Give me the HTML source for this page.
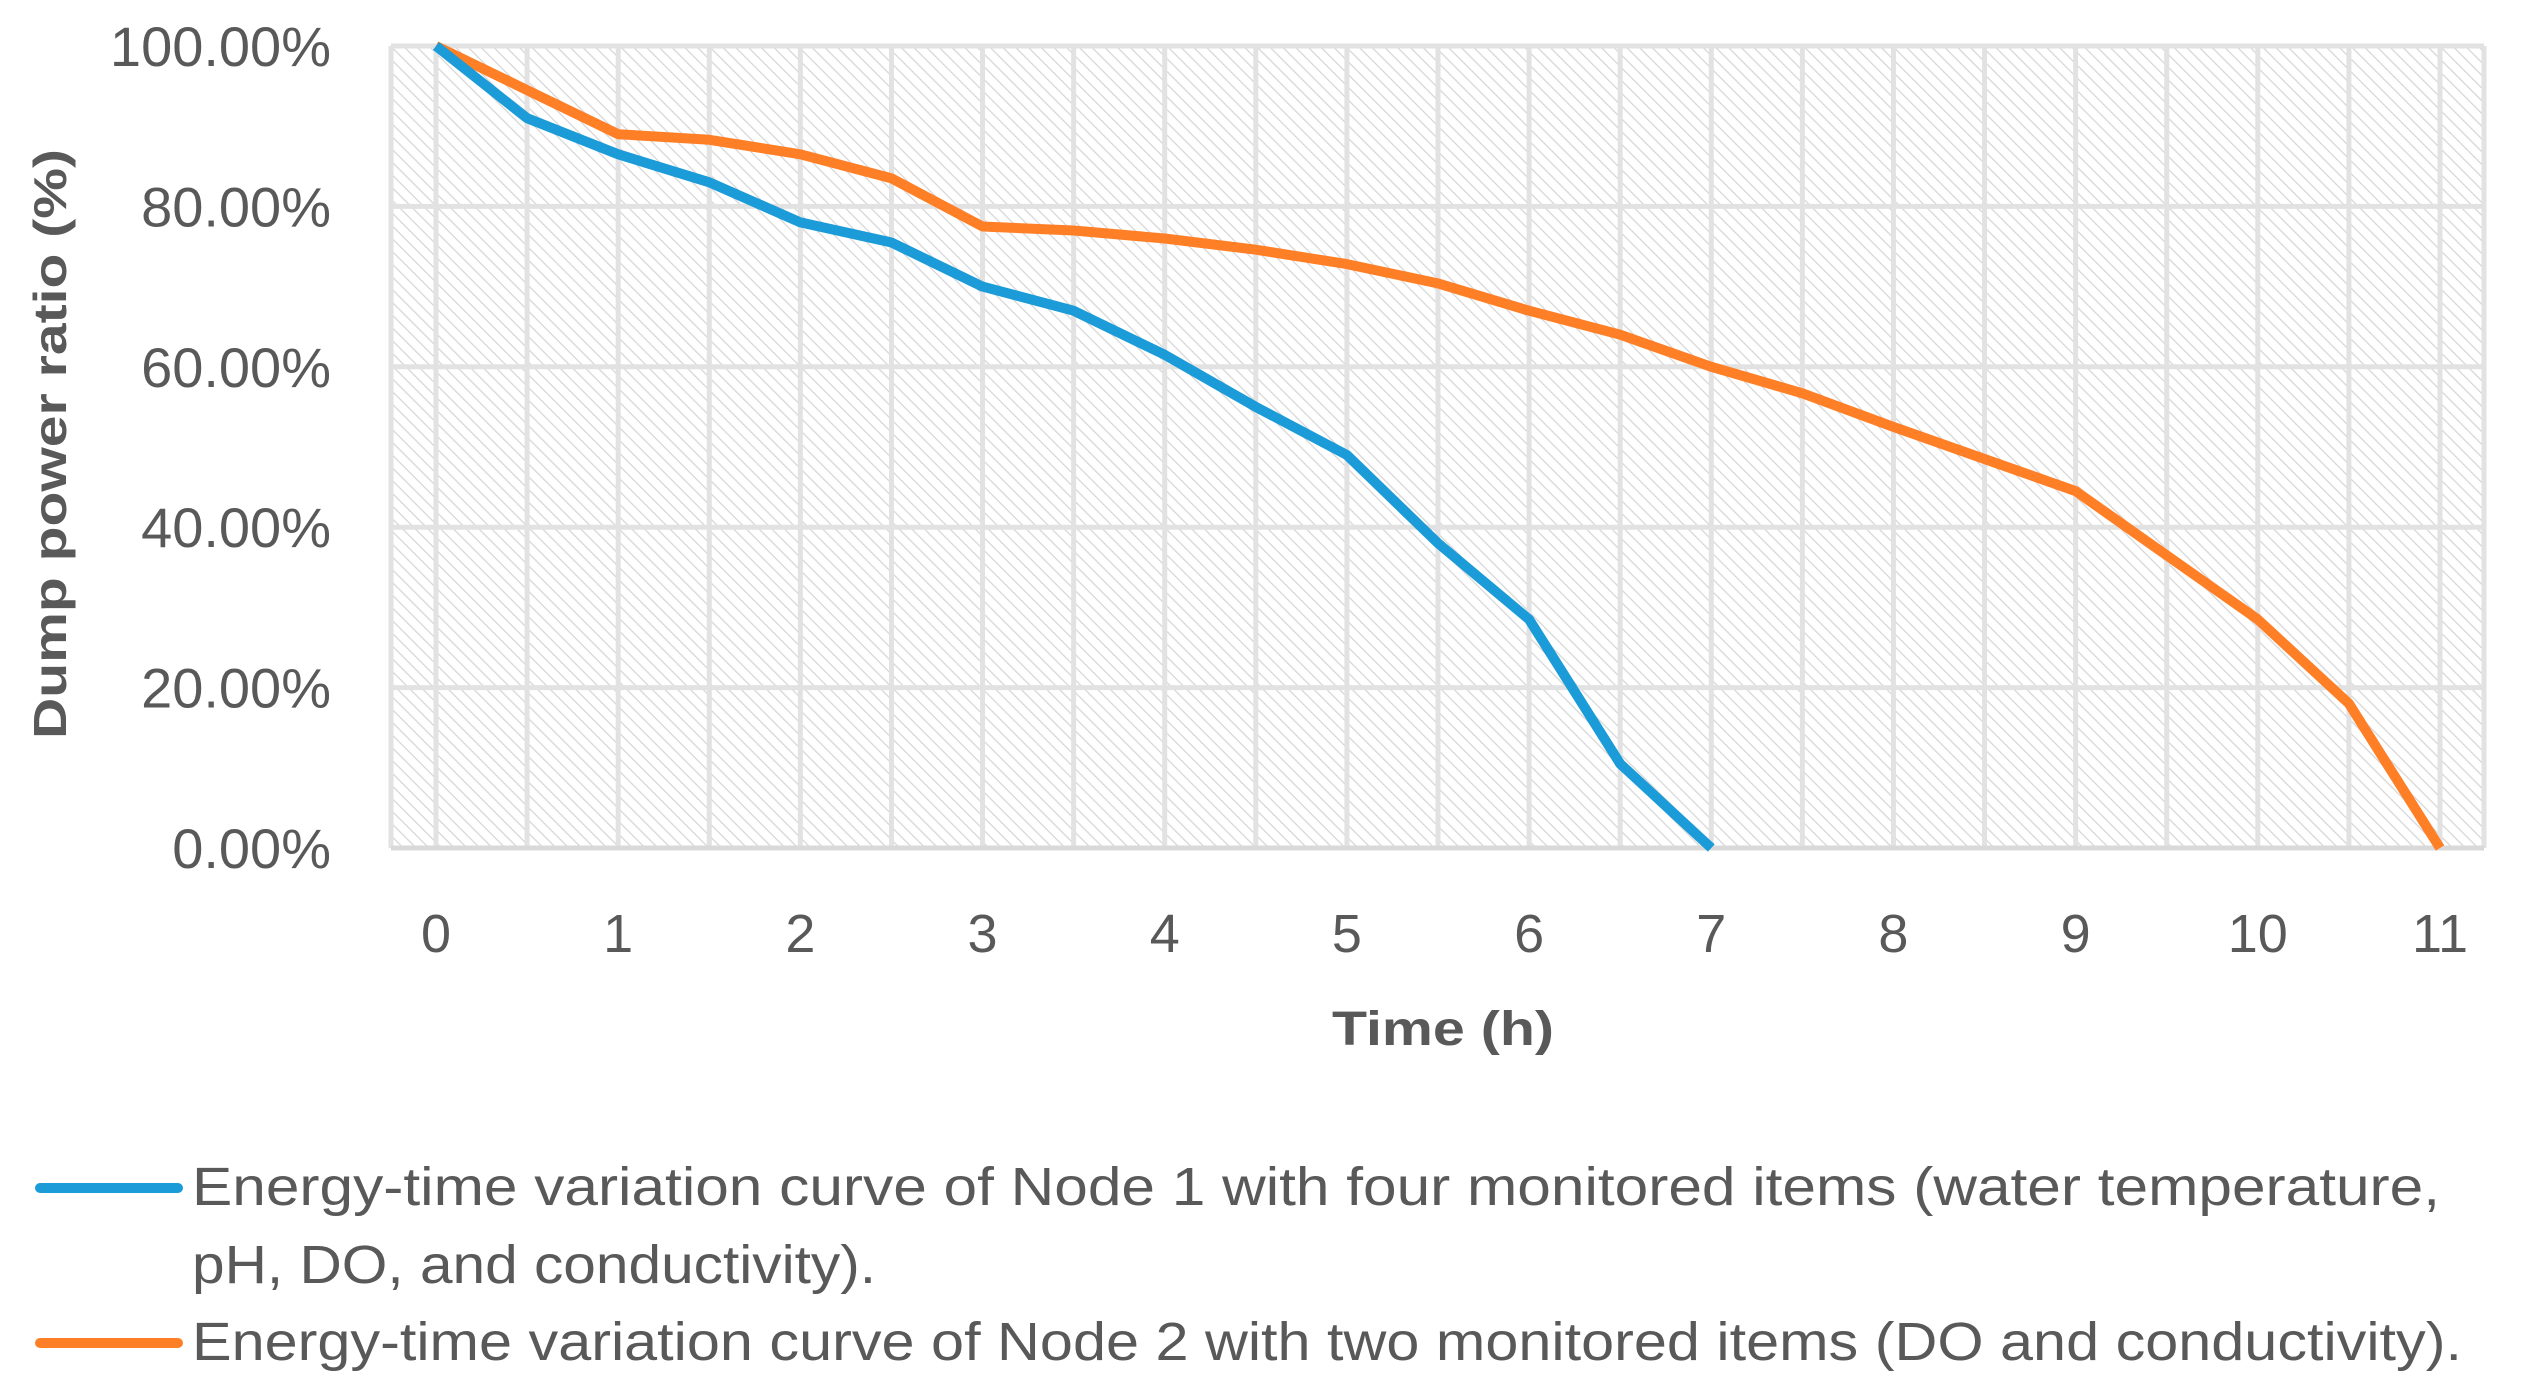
<!DOCTYPE html>
<html><head><meta charset="utf-8"><style>
html,body{margin:0;padding:0;background:#fff;}
svg{display:block;}
text{font-family:"Liberation Sans",sans-serif;fill:#595959;}
</style></head><body>
<svg id="chart" width="2521" height="1398" viewBox="0 0 2521 1398" xmlns="http://www.w3.org/2000/svg">
<defs>
<pattern id="hatch" patternUnits="userSpaceOnUse" width="9" height="9" patternTransform="rotate(-45)">
<rect width="9" height="9" fill="#fff"/>
<line x1="0" y1="0" x2="0" y2="9" stroke="#d6d6d6" stroke-width="2.5"/>
</pattern>
</defs>
<rect x="391" y="46" width="2093" height="802" fill="url(#hatch)"/>
<g id="grid"></g>
<g id="yticks"></g>
<g id="xticks"></g>
<g id="series"></g>
<text transform="translate(66,444) rotate(-90)" text-anchor="middle" font-size="46" font-weight="bold" textLength="590" lengthAdjust="spacingAndGlyphs">Dump power ratio (%)</text>
<text x="1443" y="1045" text-anchor="middle" font-size="48" font-weight="bold" textLength="222" lengthAdjust="spacingAndGlyphs">Time (h)</text>
<g>
<line x1="40" y1="1188" x2="178" y2="1188" stroke="#1b9bd7" stroke-width="10" stroke-linecap="round"/>
<text x="192" y="1205" font-size="54" textLength="2248" lengthAdjust="spacingAndGlyphs">Energy-time variation curve of Node 1 with four monitored items (water temperature,</text>
<text x="192" y="1283" font-size="54" textLength="684" lengthAdjust="spacingAndGlyphs">pH, DO, and conductivity).</text>
<line x1="40" y1="1343" x2="178" y2="1343" stroke="#ff7f27" stroke-width="10" stroke-linecap="round"/>
<text x="192" y="1360" font-size="54" textLength="2270" lengthAdjust="spacingAndGlyphs">Energy-time variation curve of Node 2 with two monitored items (DO and conductivity).</text>
</g>
</svg>
<script>
const timesNode1 = [0,0.5,1,1.5,2,2.5,3,3.5,4,4.5,5,5.5,6,6.5,7];
const valuesNode1 = [100,91,86.5,83,78,75.5,70,67,61.5,55,49,38,28.5,10.5,0];
const timesNode2 = [0,0.5,1,1.5,2,2.5,3,3.5,4,4.5,5,5.5,6,6.5,7,7.5,8,8.5,9,9.5,10,10.5,11];
const valuesNode2 = [100,94.5,89,88.3,86.5,83.5,77.5,77,76,74.6,72.8,70.4,67,64,60,56.7,52.5,48.5,44.5,36.5,28.5,18,0];
const yTicks = [0,20,40,60,80,100];
const yTickLabels = ["0.00%","20.00%","40.00%","60.00%","80.00%","100.00%"];
const xTicks = [0,1,2,3,4,5,6,7,8,9,10,11];

const X0=436, X11=2440, YT=46, YB=848, LEFT=391, RIGHT=2484;
const xs = t => X0 + (X11-X0)*t/11;
const ys = v => YB - (YB-YT)*v/100;
const NS='http://www.w3.org/2000/svg';
const mk=(tag,attrs,parent)=>{const e=document.createElementNS(NS,tag);for(const k in attrs)e.setAttribute(k,attrs[k]);parent.appendChild(e);return e;};
const grid=document.getElementById('grid');
for(let t=0;t<=11;t+=0.5){
  const l=mk('line',{x1:xs(t),x2:xs(t),y1:YT,y2:YB,stroke:'#e2e2e2','stroke-width':5},grid);
  
  
}
[LEFT,RIGHT].forEach(x=>{const l=mk('line',{x1:x,x2:x,y1:YT,y2:YB,stroke:'#e2e2e2','stroke-width':5},grid);
  
  });
const yg=document.getElementById('yticks');
yTicks.forEach((v,i)=>{
  const l=mk('line',{x1:LEFT,x2:RIGHT,y1:ys(v),y2:ys(v),stroke:v===0?'#d9d9d9':'#e2e2e2','stroke-width':5},grid);
  
  
  const t=mk('text',{x:331,y:ys(v)+20,'text-anchor':'end','font-size':56},yg);
  t.textContent=yTickLabels[i];
  
  
});
const xg=document.getElementById('xticks');
xTicks.forEach(v=>{
  const t=mk('text',{x:xs(v),y:952,'text-anchor':'middle','font-size':54},xg);
  t.textContent=String(v);
  
  
});
const sg=document.getElementById('series');
function drawLine(ts,vs,color,name){
  const d=ts.map((t,i)=>(i?'L':'M')+xs(t).toFixed(1)+','+ys(vs[i]).toFixed(1)).join(' ');
  const p=mk('path',{d:d,fill:'none',stroke:color,'stroke-width':10,'stroke-linejoin':'round'},sg);
  
  
}
drawLine(timesNode2,valuesNode2,'#ff7f27','series-node2-line');
drawLine(timesNode1,valuesNode1,'#1b9bd7','series-node1-line');
</script>
</body></html>
